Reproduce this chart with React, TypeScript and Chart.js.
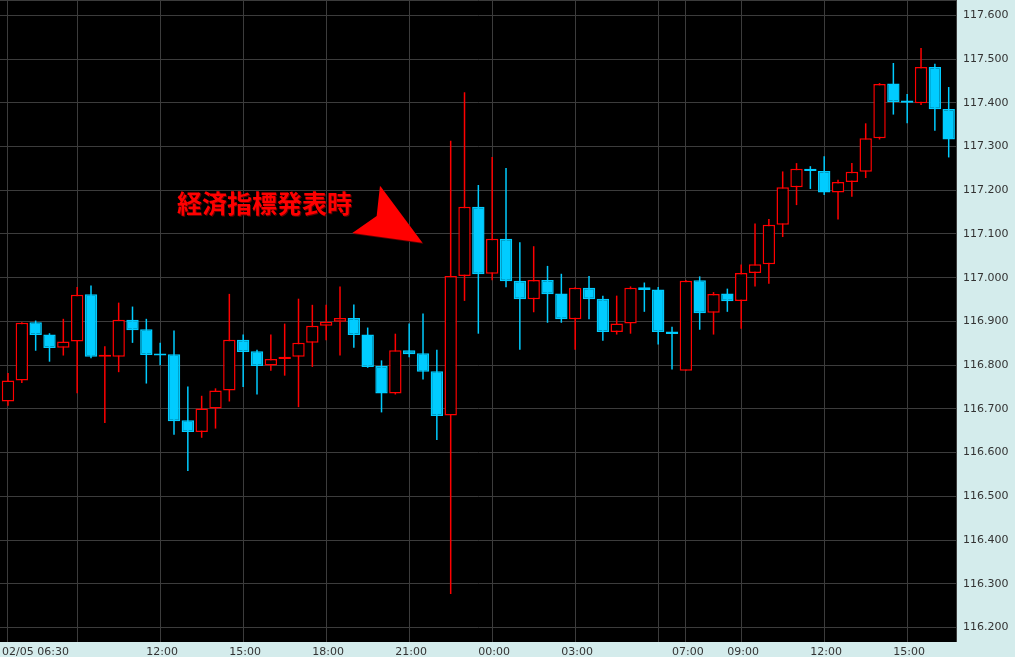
import React, { useEffect, useRef } from "react";
import { Chart, registerables } from "chart.js";

Chart.register(...registerables);

// 30-minute candles, 02/05 06:30 -> 02/06 16:30
const categories = [
  "06:30", "07:00", "07:30", "08:00", "08:30", "09:00", "09:30", "10:00", "10:30", "11:00",
  "11:30", "12:00", "12:30", "13:00", "13:30", "14:00", "14:30", "15:00", "15:30", "16:00",
  "16:30", "17:00", "17:30", "18:00", "18:30", "19:00", "19:30", "20:00", "20:30", "21:00",
  "21:30", "22:00", "22:30", "23:00", "23:30", "00:00", "00:30", "01:00", "01:30", "02:00",
  "02:30", "03:00", "03:30", "04:00", "04:30", "05:00", "05:30", "06:00", "06:30", "07:00",
  "07:30", "08:00", "08:30", "09:00", "09:30", "10:00", "10:30", "11:00", "11:30", "12:00",
  "12:30", "13:00", "13:30", "14:00", "14:30", "15:00", "15:30", "16:00", "16:30",
];

const opens = [
  116.717, 116.765, 116.898, 116.870, 116.840, 116.854, 116.962, 116.819, 116.819, 116.904,
  116.882, 116.824, 116.825, 116.674, 116.647, 116.701, 116.742, 116.858, 116.832, 116.799,
  116.814, 116.819, 116.851, 116.890, 116.899, 116.908, 116.870, 116.798, 116.735, 116.834,
  116.827, 116.786, 116.685, 117.004, 117.162, 117.009, 117.089, 116.993, 116.951, 116.995,
  116.964, 116.905, 116.977, 116.952, 116.876, 116.895, 116.978, 116.973, 116.877, 116.787,
  116.994, 116.920, 116.964, 116.947, 117.011, 117.031, 117.121, 117.207, 117.249, 117.244,
  117.195, 117.219, 117.242, 117.319, 117.444, 117.405, 117.399, 117.482, 117.386,
];

const highs = [
  116.782, 116.898, 116.902, 116.873, 116.906, 116.979, 116.982, 116.843, 116.943, 116.934,
  116.906, 116.851, 116.879, 116.751, 116.730, 116.747, 116.963, 116.870, 116.835, 116.870,
  116.895, 116.952, 116.938, 116.938, 116.980, 116.939, 116.886, 116.811, 116.872, 116.895,
  116.918, 116.835, 117.313, 117.424, 117.212, 117.276, 117.251, 117.081, 117.072, 117.027,
  117.009, 116.978, 117.004, 116.959, 116.959, 116.980, 116.989, 116.979, 116.888, 116.995,
  117.003, 116.967, 116.975, 117.030, 117.124, 117.134, 117.243, 117.262, 117.255, 117.278,
  117.224, 117.262, 117.353, 117.445, 117.491, 117.420, 117.525, 117.489, 117.436,
];

const lows = [
  116.707, 116.759, 116.833, 116.808, 116.822, 116.736, 116.816, 116.668, 116.784, 116.851,
  116.758, 116.800, 116.641, 116.558, 116.634, 116.655, 116.717, 116.750, 116.733, 116.787,
  116.776, 116.704, 116.796, 116.857, 116.822, 116.840, 116.794, 116.692, 116.733, 116.818,
  116.767, 116.629, 116.277, 116.947, 116.872, 116.994, 116.978, 116.835, 116.921, 116.897,
  116.897, 116.835, 116.905, 116.856, 116.870, 116.872, 116.922, 116.847, 116.790, 116.787,
  116.881, 116.870, 116.922, 116.883, 116.980, 116.986, 117.093, 117.166, 117.203, 117.189,
  117.133, 117.185, 117.228, 117.316, 117.373, 117.353, 117.395, 117.336, 117.275,
];

const closes = [
  116.765, 116.897, 116.869, 116.839, 116.854, 116.961, 116.819, 116.820, 116.904, 116.880,
  116.823, 116.822, 116.672, 116.647, 116.701, 116.742, 116.858, 116.830, 116.798, 116.814,
  116.819, 116.851, 116.890, 116.899, 116.908, 116.869, 116.796, 116.735, 116.834, 116.825,
  116.785, 116.684, 117.004, 117.162, 117.008, 117.089, 116.992, 116.951, 116.995, 116.962,
  116.905, 116.977, 116.951, 116.876, 116.895, 116.977, 116.972, 116.876, 116.871, 116.993,
  116.919, 116.963, 116.946, 117.011, 117.031, 117.121, 117.207, 117.249, 117.244, 117.195,
  117.219, 117.242, 117.319, 117.443, 117.402, 117.400, 117.482, 117.385, 117.316,
];

// x grid lines (candle indices) and the labels shown under them
const gridIndices = [0, 5, 11, 17, 23, 29, 35, 41, 47, 49, 53, 59, 65];
const labelIndices = [0, 11, 17, 23, 29, 35, 41, 49, 53, 59, 65];
const labelTexts = ["02/05 06:30", "12:00", "15:00", "18:00", "21:00", "00:00", "03:00", "07:00", "09:00", "12:00", "15:00"];

const yTickValues = [
  116.2, 116.3, 116.4, 116.5, 116.6, 116.7, 116.8, 116.9, 117.0, 117.1, 117.2, 117.3, 117.4, 117.5, 117.6,
];

const annotationText = "経済指標発表時";
const annotationAnchor = { x: 12.22, y: 117.17 };
const arrowPoints = [
  { x: 26.89, y: 117.21 },
  { x: 29.95, y: 117.08 },
  { x: 24.89, y: 117.102 },
  { x: 26.65, y: 117.141 },
];

const UP = "#ff0000";
const DOWN = "#00ccff";
const GRID = "#3c3c3c";
const PANEL = "#d4ecec";
const LABEL = "#333333";
const FONT = '"DejaVu Sans", Verdana, sans-serif';

export default function App() {
  const ref = useRef<HTMLCanvasElement | null>(null);

  useEffect(() => {
    const canvas = ref.current;
    if (!canvas) return;

    const isUp = (i: number) => closes[i] > opens[i];
    const candleColors = categories.map((_, i) => (isUp(i) ? UP : DOWN));

    const decor = {
      id: "decor",
      beforeDraw(chart: any) {
        const { ctx, chartArea: a } = chart;
        ctx.save();
        ctx.fillStyle = PANEL;
        ctx.fillRect(0, 0, chart.width, chart.height);
        ctx.fillStyle = "#000000";
        ctx.fillRect(a.left, a.top, a.right - a.left, a.bottom - a.top);
        ctx.restore();
      },
      afterDraw(chart: any) {
        const { ctx, chartArea: a } = chart;
        const xs = chart.scales.x;
        const ys = chart.scales.y;
        ctx.save();
        // plot border
        ctx.strokeStyle = GRID;
        ctx.lineWidth = 1;
        ctx.beginPath();
        ctx.moveTo(a.left, a.top + 0.5);
        ctx.lineTo(a.right, a.top + 0.5);
        ctx.moveTo(Math.round(a.right) - 0.5, a.top);
        ctx.lineTo(Math.round(a.right) - 0.5, a.bottom);
        ctx.stroke();

        // x labels
        ctx.font = `11px ${FONT}`;
        ctx.fillStyle = LABEL;
        ctx.textBaseline = "alphabetic";
        labelIndices.forEach((idx, k) => {
          const px = xs.getPixelForValue(idx);
          if (k === 0) {
            ctx.textAlign = "left";
            ctx.fillText(labelTexts[k], 2, chart.height - 2);
          } else {
            ctx.textAlign = "center";
            ctx.fillText(labelTexts[k], px + 2, chart.height - 2);
          }
        });

        // annotation text
        ctx.font = `bold 25px "Noto Sans CJK JP", sans-serif`;
        ctx.textAlign = "left";
        ctx.textBaseline = "middle";
        ctx.shadowColor = "rgba(110,0,0,0.9)";
        ctx.shadowOffsetX = 1;
        ctx.shadowOffsetY = 1;
        ctx.shadowBlur = 0;
        ctx.fillStyle = UP;
        ctx.fillText(
          annotationText,
          xs.getPixelForValue(annotationAnchor.x),
          ys.getPixelForValue(annotationAnchor.y)
        );

        // arrow
        ctx.beginPath();
        arrowPoints.forEach((p, i) => {
          const px = xs.getPixelForValue(p.x);
          const py = ys.getPixelForValue(p.y);
          if (i === 0) ctx.moveTo(px, py);
          else ctx.lineTo(px, py);
        });
        ctx.closePath();
        ctx.fill();
        ctx.restore();
      },
    };

    const chart = new Chart(canvas, {
      type: "bar",
      data: {
        datasets: [
          {
            label: "body",
            data: categories.map((_, i) => ({ x: i, y: [opens[i], closes[i]] })) as any,
            backgroundColor: categories.map((_, i) => (isUp(i) ? "#000000" : DOWN)),
            borderColor: candleColors,
            borderWidth: 1.5,
            borderSkipped: false,
            barThickness: 12.4,
            minBarLength: 2,
            grouped: false,
            inflateAmount: 0,
            order: 1,
          } as any,
          {
            label: "wick",
            data: categories.map((_, i) => ({ x: i, y: [lows[i], highs[i]] })) as any,
            backgroundColor: candleColors,
            borderWidth: 0,
            barThickness: 1.5,
            grouped: false,
            inflateAmount: 0,
            order: 2,
          } as any,
        ],
      },
      options: {
        responsive: false,
        animation: false,
        events: [],
        layout: { padding: 0 },
        plugins: {
          legend: { display: false },
          tooltip: { enabled: false },
        },
        scales: {
          x: {
            type: "linear",
            position: "bottom",
            min: -0.578,
            max: 68.6,
            offset: false,
            grid: { color: GRID, lineWidth: 1, drawTicks: false, offset: false },
            border: { display: false },
            ticks: { display: false },
            afterBuildTicks: (s: any) => {
              s.ticks = gridIndices.map((v) => ({ value: v }));
            },
            afterFit: (s: any) => {
              s.height = 15;
              s.paddingLeft = 0;
              s.paddingRight = 0;
              s.paddingTop = 0;
              s.paddingBottom = 0;
            },
          },
          y: {
            type: "linear",
            position: "right",
            min: 116.167,
            max: 117.635,
            grid: { color: GRID, lineWidth: 1, drawTicks: false },
            border: { display: false },
            ticks: {
              color: LABEL,
              font: { family: FONT, size: 11 },
              padding: 6,
              callback: (v: any) => Number(v).toFixed(3),
            },
            afterBuildTicks: (s: any) => {
              s.ticks = yTickValues.map((v) => ({ value: v }));
            },
            afterFit: (s: any) => {
              s.width = 58;
              s.paddingTop = 0;
              s.paddingBottom = 0;
              s.paddingLeft = 0;
              s.paddingRight = 0;
            },
          },
        },
      } as any,
      plugins: [decor],
    });

    return () => chart.destroy();
  }, []);

  return (
    <div style={{ position: "fixed", left: 0, top: 0, width: 1015, height: 657 }}>
      <canvas ref={ref} width={1015} height={657} style={{ display: "block", width: 1015, height: 657 }} />
    </div>
  );
}
